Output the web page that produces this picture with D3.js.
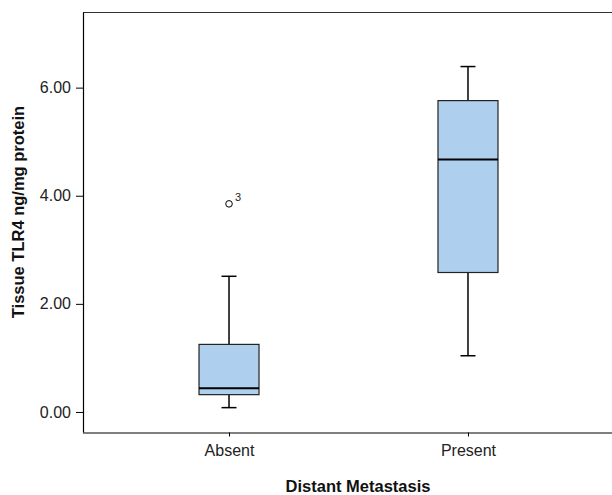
<!DOCTYPE html>
<html>
<head>
<meta charset="utf-8">
<script src="https://cdn.jsdelivr.net/npm/d3@7"></script>
<style>
  body { margin: 0; background: #fff; }
  svg { display: block; font-family: "Liberation Sans", Arial, sans-serif; }
</style>
</head>
<body>
<svg id="chart" width="612" height="495"></svg>
<script>
const categories = ["Absent", "Present"];
const whiskerLow = [0.08, 1.04];
const q1 = [0.32, 2.58];
const median = [0.44, 4.67];
const q3 = [1.25, 5.76];
const whiskerHigh = [2.51, 6.39];
const outliers = [{ cat: "Absent", value: 3.85, label: "3" }];
const yTicks = [0, 2, 4, 6];
const yTitle = "Tissue TLR4 ng/mg protein";
const xTitle = "Distant Metastasis";

(function () {
const svg = d3.select("#chart");
const mLeft = 83, mRight = 614, mTop = 12.5, mBottom = 432.5;
const font = "Liberation Sans, Arial, sans-serif";

const x = d3.scalePoint().domain(categories).range([mLeft, mRight]).padding(0.611);
const y = d3.scaleLinear().domain([-0.38, 7.39]).range([mBottom, mTop]);

const boxW = 60, capW = 15;

// frame top line
svg.append("line").attr("x1", mLeft).attr("x2", 612).attr("y1", mTop).attr("y2", mTop)
  .attr("stroke", "#333").attr("stroke-width", 1.2);

// y axis
const yAxis = d3.axisLeft(y).tickValues(yTicks).tickFormat(d3.format(".2f")).tickSize(7).tickPadding(5).tickSizeOuter(0);
const gy = svg.append("g").attr("transform", `translate(${mLeft},0)`).call(yAxis);
gy.select(".domain").attr("d", `M0.5,${mTop}V${mBottom}`).attr("stroke", "#000").attr("stroke-width", 1.2);
gy.selectAll(".tick line").attr("stroke", "#000");
gy.selectAll(".tick text").attr("font-size", 16).attr("fill", "#222").attr("font-family", font);

// x axis
const xAxis = d3.axisBottom(x).tickSize(4).tickPadding(8.5).tickSizeOuter(0);
const gx = svg.append("g").attr("transform", `translate(0,${mBottom})`).call(xAxis);
gx.select(".domain").attr("d", `M${mLeft},0.5H612`).attr("stroke", "#000").attr("stroke-width", 1.2);
gx.selectAll(".tick line").attr("stroke", "#000");
gx.selectAll(".tick text").attr("font-size", 16).attr("fill", "#222").attr("font-family", font);

// boxes
const data = categories.map((c, i) => ({ c, lo: whiskerLow[i], q1: q1[i], med: median[i], q3: q3[i], hi: whiskerHigh[i] }));
const g = svg.append("g");
data.forEach(d => {
  const cx = x(d.c);
  g.append("line").attr("x1", cx).attr("x2", cx).attr("y1", y(d.hi)).attr("y2", y(d.q3)).attr("stroke", "#000").attr("stroke-width", 1.5);
  g.append("line").attr("x1", cx).attr("x2", cx).attr("y1", y(d.q1)).attr("y2", y(d.lo)).attr("stroke", "#000").attr("stroke-width", 1.5);
  g.append("line").attr("x1", cx - capW / 2).attr("x2", cx + capW / 2).attr("y1", y(d.hi)).attr("y2", y(d.hi)).attr("stroke", "#000").attr("stroke-width", 1.5);
  g.append("line").attr("x1", cx - capW / 2).attr("x2", cx + capW / 2).attr("y1", y(d.lo)).attr("y2", y(d.lo)).attr("stroke", "#000").attr("stroke-width", 1.5);
  g.append("rect").attr("x", cx - boxW / 2).attr("width", boxW)
    .attr("y", y(d.q3)).attr("height", y(d.q1) - y(d.q3))
    .attr("fill", "#aed0ee").attr("stroke", "#222").attr("stroke-width", 1.2);
  g.append("line").attr("x1", cx - boxW / 2).attr("x2", cx + boxW / 2).attr("y1", y(d.med)).attr("y2", y(d.med))
    .attr("stroke", "#000").attr("stroke-width", 2);
});

// outliers
outliers.forEach(o => {
  g.append("circle").attr("cx", x(o.cat)).attr("cy", y(o.value)).attr("r", 3.3)
    .attr("fill", "#fff").attr("stroke", "#000").attr("stroke-width", 1);
  g.append("text").attr("x", x(o.cat) + 6).attr("y", y(o.value) - 3)
    .attr("font-size", 11).attr("fill", "#222").attr("font-family", font).text(o.label);
});

// titles
svg.append("text").attr("transform", `translate(24,212) rotate(-90)`).attr("text-anchor", "middle")
  .attr("font-size", 16.5).attr("font-weight", "bold").attr("fill", "#111").attr("font-family", font).text(yTitle);
svg.append("text").attr("x", 358).attr("y", 492).attr("text-anchor", "middle")
  .attr("font-size", 16.5).attr("font-weight", "bold").attr("fill", "#111").attr("font-family", font).text(xTitle);
})();
</script>
</body>
</html>
